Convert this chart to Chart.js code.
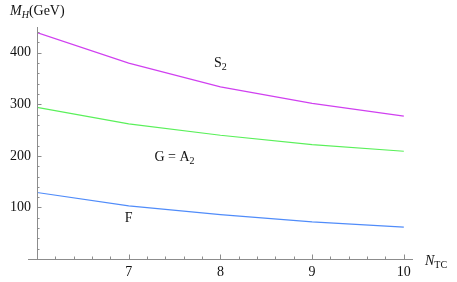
<!DOCTYPE html>
<html>
<head>
<meta charset="utf-8">
<script src="https://cdn.jsdelivr.net/npm/chart.js@4.4.1/dist/chart.umd.min.js"></script>
<style>
html,body{margin:0;padding:0;background:#fff;}
#wrap{width:457px;height:282px;position:relative;}
</style>
</head>
<body>
<div id="wrap"><canvas id="c" width="457" height="282"></canvas></div>
<script>
const nTC = [6, 7, 8, 9, 10];
const mS2 = [439, 380, 334, 302, 277];
const mGA2 = [294, 262, 240, 222, 209];
const mF = [129, 103, 86, 72, 62];
const xTickValues = [7, 8, 9, 10];
const yTickValues = [100, 200, 300, 400];

const FONT = '"Liberation Serif", "Times New Roman", serif';
const AXIS = '#8c8c8c';

function pts(ys){ return nTC.map((x,i)=>({x:x, y:ys[i]})); }

function drawSub(ctx, x, y, main, sub, mainFont, subFont, align){
  ctx.font = mainFont; const w1 = ctx.measureText(main).width;
  ctx.font = subFont; const w2 = ctx.measureText(sub).width;
  let x0 = align === 'center' ? x - (w1 + w2)/2 : x;
  ctx.textAlign = 'left'; ctx.textBaseline = 'alphabetic';
  ctx.font = mainFont; ctx.fillText(main, x0, y);
  ctx.font = subFont; ctx.fillText(sub, x0 + w1, y + 3);
}

const axesPlugin = {
  id: 'mmaAxes',
  afterDatasetsDraw(chart){
    const ctx = chart.ctx, xs = chart.scales.x, ys = chart.scales.y;
    const a = chart.chartArea;
    const x0 = xs.getPixelForValue(6), y0 = ys.getPixelForValue(0);
    ctx.save();
    ctx.strokeStyle = AXIS; ctx.lineWidth = 1;
    // axis lines
    ctx.beginPath();
    ctx.moveTo(x0 - 9, Math.round(y0)+0.5); ctx.lineTo(a.right, Math.round(y0)+0.5);
    ctx.moveTo(Math.round(x0)+0.5, y0); ctx.lineTo(Math.round(x0)+0.5, a.top);
    ctx.stroke();
    // x ticks
    ctx.beginPath();
    for (let k = 0; k <= 20; k++){
      const v = 6 + k*0.2;
      if (k === 0) continue;
      const px = Math.round(xs.getPixelForValue(v))+0.5;
      const len = (k % 5 === 0) ? 4.5 : 2.5;
      ctx.moveTo(px, y0); ctx.lineTo(px, y0 - len);
    }
    // y ticks
    for (let k = 1; k <= 22; k++){
      const v = k*20;
      const py = Math.round(ys.getPixelForValue(v))+0.5;
      const len = (k % 5 === 0) ? 4.5 : 2.5;
      ctx.moveTo(x0, py); ctx.lineTo(x0 + len, py);
    }
    ctx.stroke();
    // labels
    ctx.fillStyle = '#111';
    drawSub(ctx, xs.getPixelForValue(8.0), ys.getPixelForValue(372), 'S', '2', '14px '+FONT, '10px '+FONT, 'center');
    drawSub(ctx, xs.getPixelForValue(7.5), ys.getPixelForValue(190), 'G = A', '2', '14px '+FONT, '10px '+FONT, 'center');
    ctx.font = '14px '+FONT; ctx.textAlign = 'center'; ctx.textBaseline = 'alphabetic';
    ctx.fillText('F', xs.getPixelForValue(7.0), ys.getPixelForValue(72));
    // axis titles
    ctx.textAlign = 'left';
    let tx = 10, ty = 15;
    ctx.font = 'italic 14px '+FONT; ctx.fillText('M', tx, ty); tx += ctx.measureText('M').width;
    ctx.font = 'italic 10px '+FONT; ctx.fillText('H', tx, ty + 3); tx += ctx.measureText('H').width;
    ctx.font = '14px '+FONT; ctx.fillText('(GeV)', tx, ty);
    tx = a.right + 12; ty = y0 + 6;
    ctx.font = 'italic 14px '+FONT; ctx.fillText('N', tx, ty); tx += ctx.measureText('N').width;
    ctx.font = '10px '+FONT; ctx.fillText('TC', tx, ty + 3);
    ctx.restore();
  }
};

new Chart(document.getElementById('c'), {
  type: 'line',
  data: {
    datasets: [
      {label:'S2', data: pts(mS2), borderColor:'rgb(208,64,240)', borderWidth:1.2},
      {label:'G = A2', data: pts(mGA2), borderColor:'rgb(90,240,90)', borderWidth:1.2},
      {label:'F', data: pts(mF), borderColor:'rgb(80,140,250)', borderWidth:1.2}
    ]
  },
  options: {
    responsive: false,
    animation: false,
    events: [],
    layout: {padding: {left: 0, right: 44, top: 27, bottom: 0}},
    elements: {point: {radius: 0}, line: {tension: 0}},
    plugins: {legend: {display: false}, tooltip: {enabled: false}},
    scales: {
      x: {
        type: 'linear', min: 6, max: 10.1,
        grid: {display: false, drawTicks: false},
        border: {display: false},
        afterBuildTicks(s){ s.ticks = xTickValues.map(v=>({value:v})); },
        afterFit(s){ s.height = 23; },
        ticks: {padding: 5, color: '#111', font: {family: FONT, size: 14}, maxRotation: 0}
      },
      y: {
        type: 'linear', min: 0, max: 450,
        grid: {display: false, drawTicks: false},
        border: {display: false},
        afterBuildTicks(s){ s.ticks = yTickValues.map(v=>({value:v})); },
        afterFit(s){ s.width = 37; },
        ticks: {padding: 6, color: '#111', font: {family: FONT, size: 14}}
      }
    }
  },
  plugins: [axesPlugin]
});
</script>
</body>
</html>
